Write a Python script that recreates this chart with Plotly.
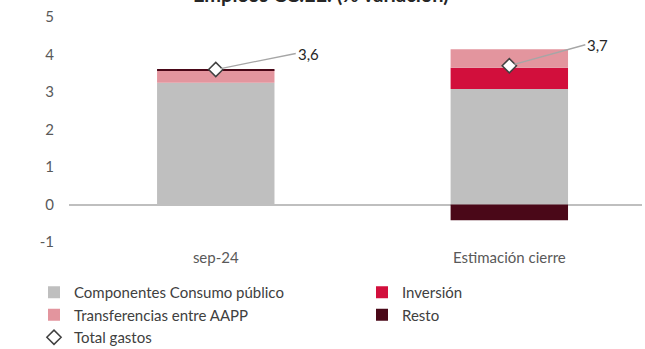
import plotly.graph_objects as go

# Categories and stacked components (% variación)
categories = ["sep-24", "Estimación cierre"]
consumo_publico = [3.25, 3.08]
inversion = [0.0, 0.57]
transferencias = [0.33, 0.49]
resto = [0.02, -0.42]
total_gastos = [3.6, 3.7]

y_tick_values = [-1, 0, 1, 2, 3, 4, 5]
y_tick_labels = ["-1", "0", "1", "2", "3", "4", "5"]

series_names = ["Componentes Consumo público", "Inversión",
                "Transferencias entre AAPP", "Resto"]
series_colors = ["#bfbfbf", "#d20f3c", "#e3959e", "#4a0818"]
series_values = [consumo_publico, inversion, transferencias, resto]
# Two-column legend: left column and right column
series_legend = ["legend", "legend2", "legend", "legend2"]

FONT = "Lato"
TEXT = "#404040"

fig = go.Figure()
for name, vals, col, leg in zip(series_names, series_values, series_colors, series_legend):
    fig.add_trace(go.Bar(
        x=categories, y=vals, name=name, marker_color=col,
        marker_line_width=0, width=0.4, legend=leg,
    ))

fig.add_trace(go.Scatter(
    x=categories, y=total_gastos, name="Total gastos", mode="markers",
    marker=dict(symbol="diamond", size=11, color="white",
                line=dict(color="#404040", width=1.5)),
    legend="legend",
))

# Leader-line labels for the total
label_offsets = [(80, -16), (76, -21)]
for cat, val, (dx, dy) in zip(categories, total_gastos, label_offsets):
    fig.add_annotation(
        x=cat, y=val, text=f"{val:.1f}".replace(".", ","),
        showarrow=True, arrowhead=0, arrowwidth=1.3, arrowcolor="#a6a6a6",
        ax=dx, ay=dy, standoff=5, xanchor="left",
        font=dict(family=FONT, size=15, color="#262626"),
    )

# Chart title (sits mostly above the visible area)
fig.add_annotation(
    xref="paper", yref="paper", x=0.44, y=1.1, yanchor="middle",
    text="<b>Empleos CC.EE. (% variación)</b>", showarrow=False,
    font=dict(family=FONT, size=20, color="#262626"),
)

legend_style = dict(
    orientation="v", xref="container", yref="container",
    xanchor="left", yanchor="top", traceorder="normal", itemwidth=30,
    font=dict(family=FONT, size=15, color=TEXT), bgcolor="rgba(0,0,0,0)",
)

fig.update_layout(
    barmode="relative",
    width=645, height=349,
    margin=dict(l=69, r=3, t=17, b=107, autoexpand=False),
    paper_bgcolor="white", plot_bgcolor="white",
    font=dict(family=FONT, size=15, color="#595959"),
    showlegend=True,
    legend=dict(legend_style, x=34 / 645, y=1 - 276 / 349),
    legend2=dict(legend_style, x=362 / 645, y=1 - 276 / 349),
    xaxis=dict(
        range=[-0.5, 1.452], showgrid=False, showline=False,
        ticks="outside", ticklen=2, tickcolor="rgba(0,0,0,0)",
        tickfont=dict(family=FONT, size=15, color="#595959"),
    ),
    yaxis=dict(
        range=[-1, 5], tickvals=y_tick_values, ticktext=y_tick_labels,
        showgrid=False, showline=False,
        zeroline=True, zerolinecolor="#bfbfbf", zerolinewidth=1.5,
        ticks="outside", ticklen=11, tickcolor="rgba(0,0,0,0)",
        tickfont=dict(family=FONT, size=15, color="#595959"),
    ),
)

fig.write_html("out.html")
